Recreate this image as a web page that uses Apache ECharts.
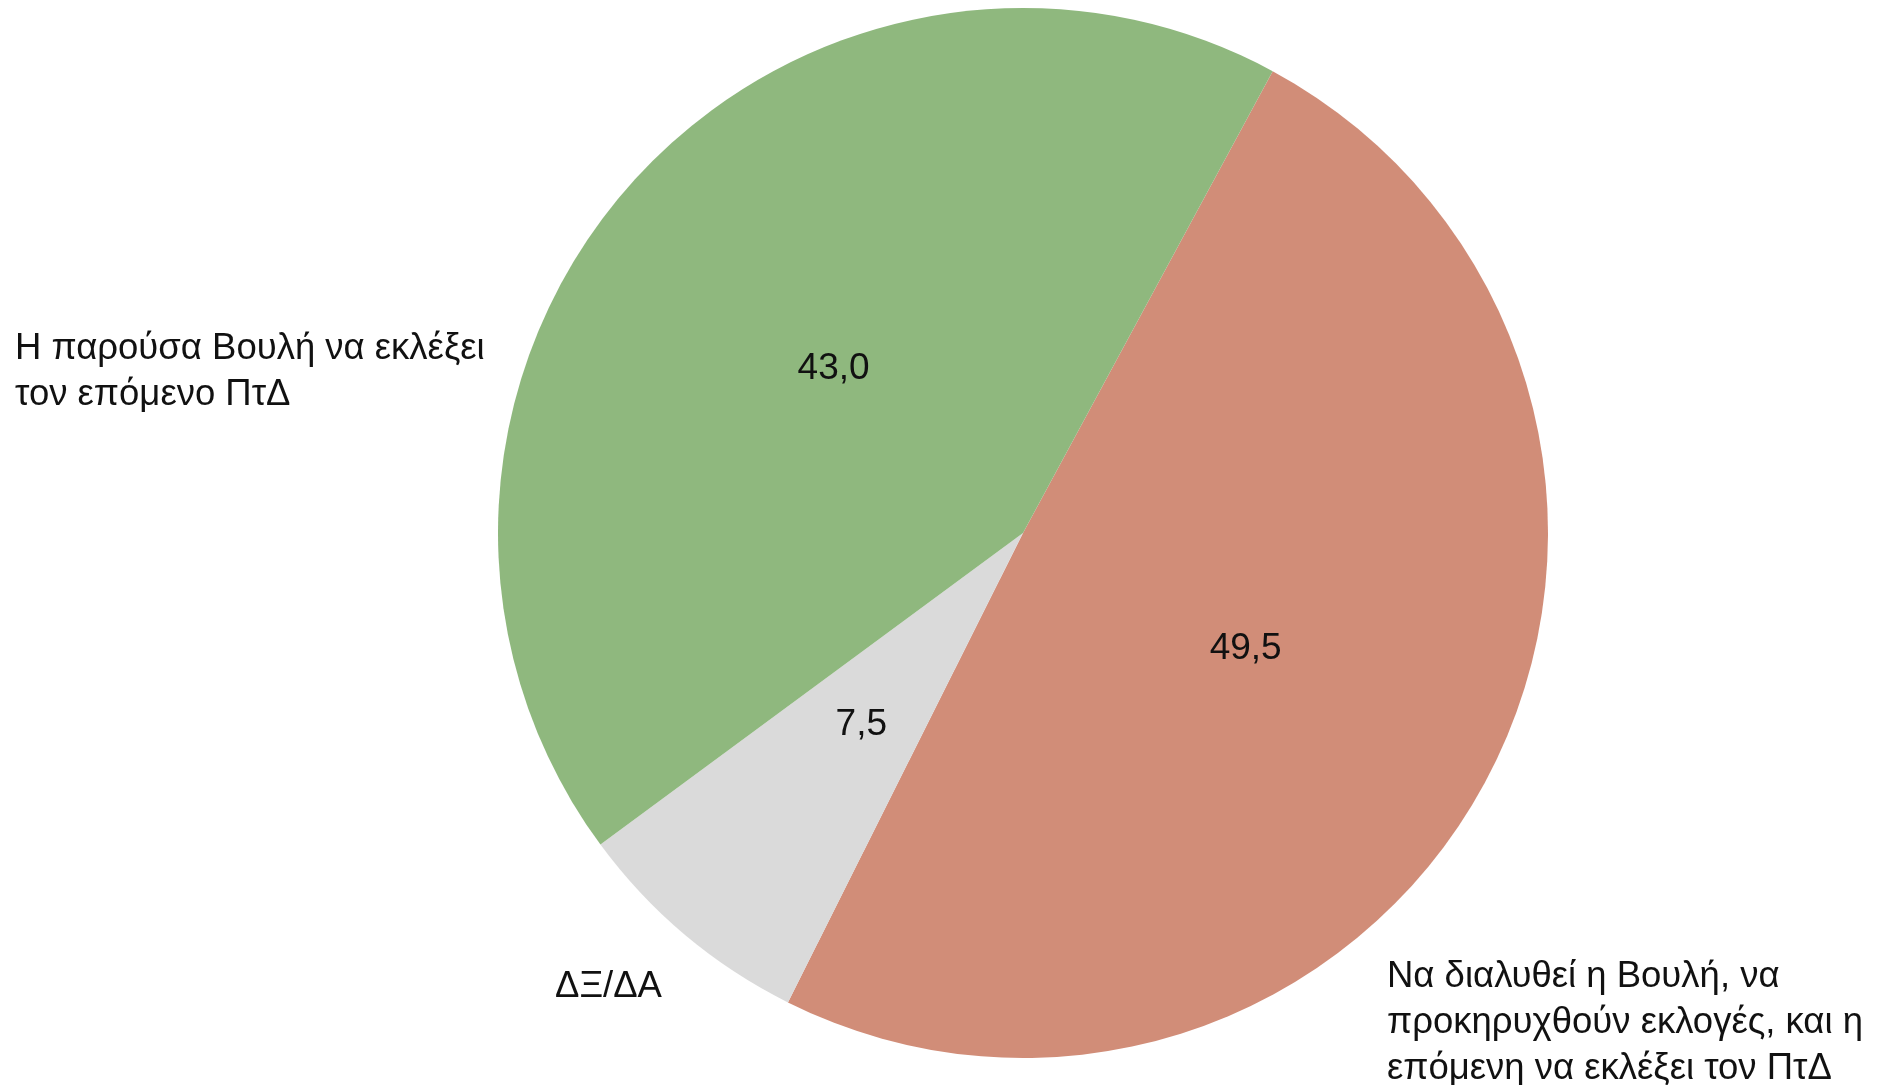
<!DOCTYPE html>
<html>
<head>
<meta charset="utf-8">
<script src="https://cdn.jsdelivr.net/npm/echarts@6/dist/echarts.min.js"></script>
<style>
html,body{margin:0;padding:0;background:#fff;}
#chart{width:1883px;height:1085px;}
</style>
</head>
<body>
<div id="chart"></div>
<script>
// Data (clockwise order starting near 1 o'clock)
const categories = [
  'Να διαλυθεί η Βουλή, να\nπροκηρυχθούν εκλογές, και η\nεπόμενη να εκλέξει τον ΠτΔ',
  'ΔΞ/ΔΑ',
  'Η παρούσα Βουλή να εκλέξει\nτον επόμενο ΠτΔ'
];
const values = [49.5, 7.5, 43.0];
const colors = ['#d18d78', '#dadada', '#8fb87e'];

// Outside label anchor positions (layout only)
const labelAnchors = [
  {x: 1387, y: 1023},
  {x: 555, y: 987},
  {x: 15, y: 372}
];

const FONT = "'Liberation Sans', Arial, sans-serif";
const chart = echarts.init(document.getElementById('chart'), null, {renderer: 'canvas'});

const pieData = categories.map((c, i) => ({
  name: c, value: values[i], itemStyle: {color: colors[i]}
}));

chart.setOption({
  backgroundColor: '#fff',
  animation: false,
  series: [
    {
      type: 'pie',
      center: [1023, 533],
      radius: [0, 525],
      startAngle: 61.6,
      clockwise: true,
      avoidLabelOverlap: false,
      itemStyle: {borderWidth: 0},
      data: pieData,
      label: {
        show: true,
        position: 'outside',
        formatter: p => p.name,
        color: '#111',
        fontFamily: FONT,
        fontSize: 36.5,
        lineHeight: 46,
        align: 'left'
      },
      labelLine: {show: false},
      labelLayout: p => ({
        x: labelAnchors[p.dataIndex].x,
        y: labelAnchors[p.dataIndex].y,
        align: 'left',
        verticalAlign: 'middle',
        hideOverlap: false,
        moveOverlap: null
      }),
      emphasis: {disabled: true}
    },
    {
      type: 'pie',
      silent: true,
      center: [1023, 533],
      radius: [0, 496],
      startAngle: 61.6,
      clockwise: true,
      avoidLabelOverlap: false,
      itemStyle: {color: 'rgba(0,0,0,0)', borderWidth: 0},
      data: categories.map((c, i) => ({name: c, value: values[i]})),
      label: {
        show: true,
        position: 'inside',
        formatter: p => p.value.toFixed(1).replace('.', ','),
        color: '#111',
        fontFamily: FONT,
        fontSize: 37
      },
      labelLine: {show: false},
      emphasis: {disabled: true}
    }
  ]
});
</script>
</body>
</html>
